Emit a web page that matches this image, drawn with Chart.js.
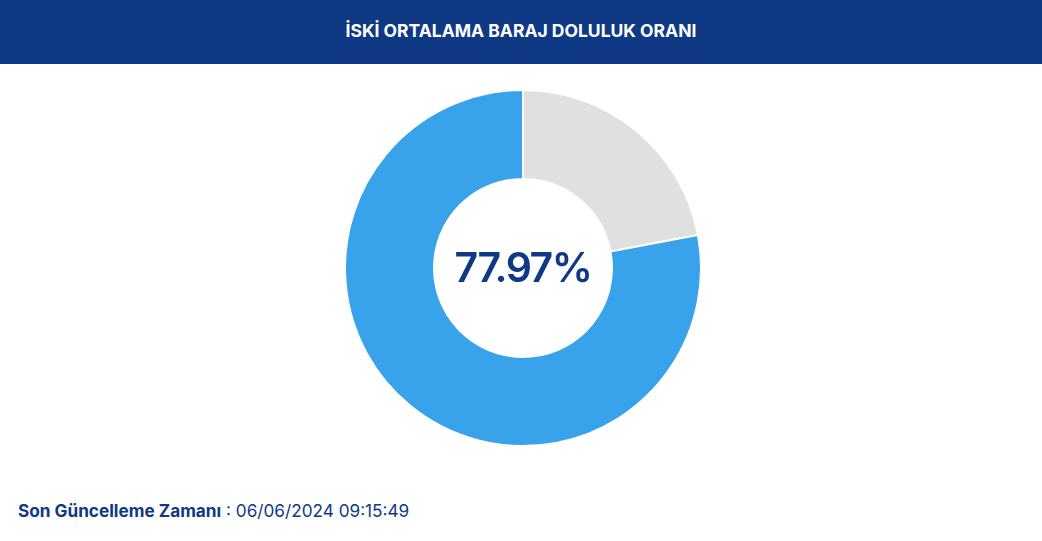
<!DOCTYPE html>
<html><head><meta charset="utf-8">
<script src="https://cdn.jsdelivr.net/npm/chart.js@4/dist/chart.umd.min.js"></script>
<style>
html,body{margin:0;padding:0;background:#fff;width:1042px;height:541px;overflow:hidden;font-family:Inter,"Noto Sans",sans-serif;}
#hdr{position:absolute;left:0;top:0;width:1042px;height:64px;background:#0f3985;color:#fff;font-weight:700;font-size:17.5px;text-align:center;line-height:61px;}
#wrap{position:absolute;left:0;top:89px;width:1042px;height:358px;}
#foot{position:absolute;left:18px;top:500px;font-size:17.2px;color:#0f3985;white-space:nowrap;}
#foot b{font-weight:700;}
</style></head>
<body>
<div id="hdr">İSKİ ORTALAMA BARAJ DOLULUK ORANI</div>
<div id="wrap"><canvas id="c"></canvas></div>
<div id="foot"><b>Son Güncelleme Zamanı</b> : 06/06/2024 09:15:49</div>
<script>
const labels = ["Boş", "Dolu"];
const values = [22.03, 77.97];
const colors = ["#e0e0e0", "#38a2ea"];
const centerPlugin = {
  id: 'centerText',
  afterDraw(chart) {
    const meta = chart.getDatasetMeta(0);
    const arc = meta.data[0];
    if (!arc) return;
    const ctx = chart.ctx;
    ctx.save();
    ctx.font = '600 41px Inter, "Noto Sans", sans-serif';
    if ('letterSpacing' in ctx) ctx.letterSpacing = '-1.5px';
    ctx.fillStyle = '#0f3985';
    ctx.textAlign = 'center';
    ctx.textBaseline = 'middle';
    ctx.fillText(values[1].toFixed(2) + '%', arc.x, arc.y + 2);
    ctx.restore();
  }
};
new Chart(document.getElementById('c'), {
  type: 'doughnut',
  data: { labels: labels, datasets: [{ data: values, backgroundColor: colors, borderColor: '#fff', borderWidth: 2, hoverOffset: 0 }] },
  options: {
    responsive: true, maintainAspectRatio: false, animation: false,
    cutout: '50%',
    layout: { padding: { left: 4 } },
    plugins: { legend: { display: false }, tooltip: { enabled: false } }
  },
  plugins: [centerPlugin]
});
</script>
</body></html>
